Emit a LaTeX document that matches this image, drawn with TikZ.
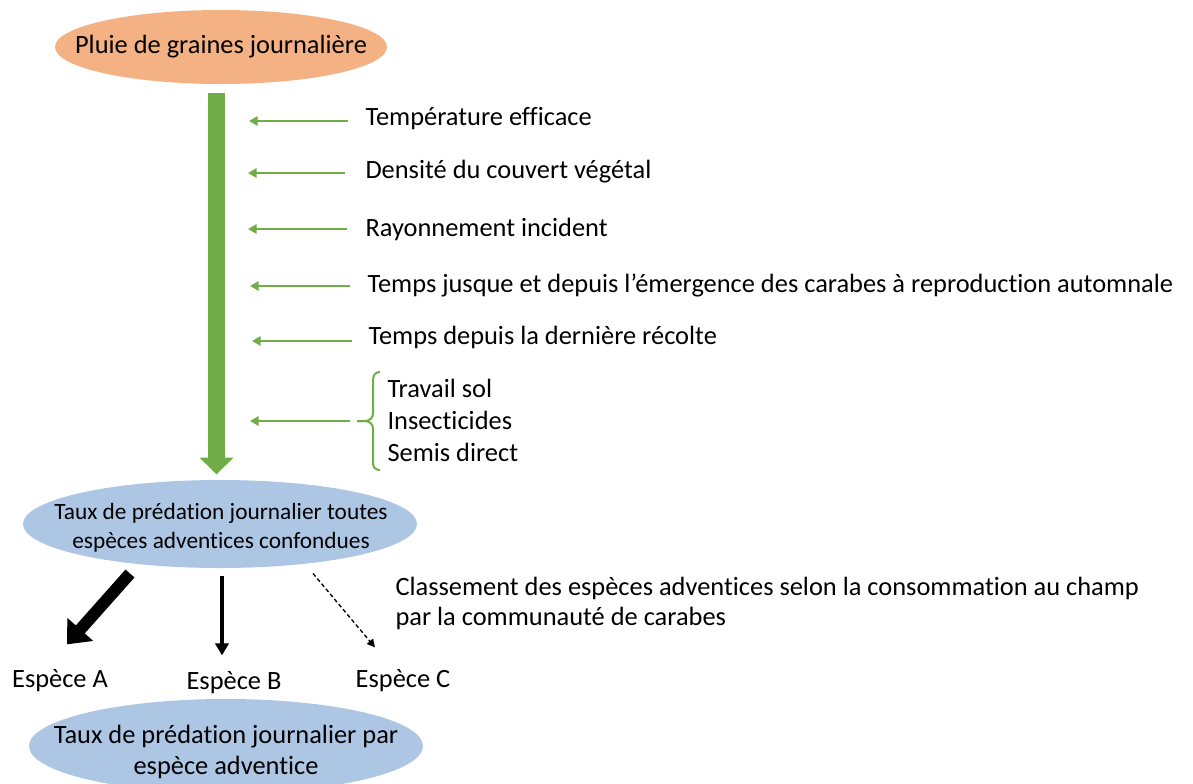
\documentclass[tikz,border=0pt]{standalone}
\usepackage{fontspec}
\setmainfont{Carlito}[RawFeature={-liga;-clig;-calt;-dlig}]
\usetikzlibrary{arrows.meta,calc,shapes.geometric}

\definecolor{pluieorange}{RGB}{244,177,131}
\definecolor{tauxblue}{RGB}{172,198,228}
\definecolor{feedgreen}{RGB}{112,173,71}

\tikzset{every picture/.style={line width=0.75pt}}
\tikzset{
	bubble/.style={ellipse, draw=none, inner sep=0pt},
	bubbletext/.style={inner sep=0pt, align=center},
	factor/.style={anchor=west, inner sep=0pt, font=\fontsize{19.8}{24}\selectfont},
	espece/.style={inner sep=0pt, font=\fontsize{19.8}{24}\selectfont},
	trunk/.style={draw=feedgreen, line width=12.75pt, -{Triangle[width=24.75pt,length=12.75pt]}},
	feed/.style={draw=feedgreen, line width=1.9pt, -{Triangle[width=7pt,length=6.5pt]}},
	heavy/.style={line width=9pt, -{Triangle[width=25pt,length=15pt]}},
	plain/.style={line width=2.5pt, -{Triangle[width=10pt,length=9pt]}},
	faint/.style={line width=1pt, dash pattern=on 3pt off 2pt, -{Triangle[width=6pt,length=6pt]}}
}

\begin{document}
\begin{tikzpicture}[x=0.75pt,y=0.75pt,yscale=-1,xscale=1]
	\useasboundingbox (0,0) rectangle (1193,783);
	\clip (0,0) rectangle (1193,783);

	%Ellipses
	\node[bubble, fill=pluieorange, minimum width=249pt, minimum height=55.5pt] (pluie) at (221,47) {};
	\node[bubbletext, font=\fontsize{19.8}{24}\selectfont] (pluie-t) at (pluie) {Pluie de graines journalière};
	\node[bubble, fill=tauxblue, minimum width=295.5pt, minimum height=66pt] (tauxall) at (220,524) {};
	\node[bubbletext, font=\fontsize{17.5}{21.75}\selectfont] (tauxall-t) at (221,528) {Taux de prédation journalier toutes\\espèces adventices confondues};
	\node[bubble, fill=tauxblue, minimum width=295.5pt, minimum height=70.5pt] (tauxesp) at (226,746) {};
	\node[bubbletext, font=\fontsize{19.8}{23.25}\selectfont] (tauxesp-t) at (226,752) {Taux de prédation journalier par\\espèce adventice};

	%Main flow
	\draw[trunk] ($(pluie.south)+(-4.5,8)$) -- ($(tauxall.north)+(-3.5,-5)$);

	% Factors
	\node[factor] (temperature) at (365,119) {Température efficace};
	\node[factor] (densite) at (365,172) {Densité du couvert végétal};
	\node[factor] (rayonnement) at (365,229) {Rayonnement incident};
	\node[factor] (emergence) at (367,285) {Temps jusque et depuis l’émergence des carabes à reproduction automnale};
	\node[factor] (recolte) at (368,337) {Temps depuis la dernière récolte};
	\node[factor, align=left] (pratiques) at (387,420) {Travail sol\\Insecticides\\Semis direct};

	\draw[feed] (temperature.west) ++(-17,2) -- ++(-99,0);
	\draw[feed] (densite.west) ++(-20,1) -- ++(-97,0);
	\draw[feed] (rayonnement.west) ++(-18,0) -- ++(-99,0);
	\draw[feed] (emergence.west) ++(-17,1) -- ++(-100,0);
	\draw[feed] (recolte.west) ++(-16,4) -- ++(-100,0);

	%Brace
	\coordinate (bracetip) at (357,421);
	\draw[feedgreen, line width=1.5pt] (380,372) .. controls (375,372) and (373,375) .. (373,381) -- (373,413) .. controls (373,418) and (370,421) .. (364,421) -- (bracetip);
	\draw[feedgreen, line width=1.5pt] (bracetip) -- (364,421) .. controls (370,421) and (373,424) .. (373,429) -- (373,463) .. controls (373,467) and (375,470) .. (380,470);
	\draw[feed] (bracetip) ++(-7,0) -- ++(-100,0);

	% Species
	\node[espece] (especeA) at (60,681) {Espèce A};
	\node[espece] (especeB) at (234,683) {Espèce B};
	\node[espece] (especeC) at (403,681) {Espèce C};
	\node[factor, align=left, font=\fontsize{19.8}{22.5}\selectfont] (classement) at (395,603) {Classement des espèces adventices selon la consommation au champ\\par la communauté de carabes};

	\draw[heavy] ($(tauxall.south)+(-90,5)$) -- ($(especeA.north)+(7,-25)$);
	\draw[plain] ($(tauxall.south)+(2,7)$) -- ($(especeB.north)+(-12,-16)$);
	\draw[faint] ($(tauxall.south)+(93,5)$) -- ($(especeC.north)+(-28,-22)$);

\end{tikzpicture}
\end{document}
